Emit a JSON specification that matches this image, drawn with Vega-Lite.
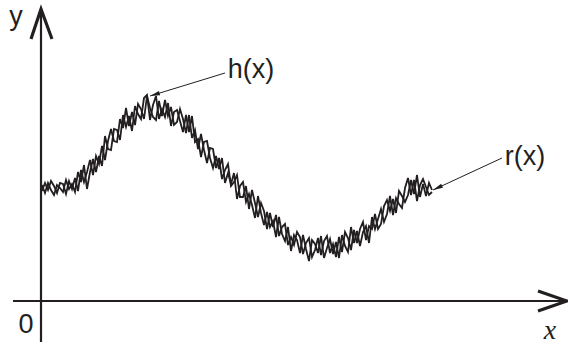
{
  "$schema": "https://vega.github.io/schema/vega-lite/v6.json",
  "width": 568,
  "height": 345,
  "padding": 0,
  "autosize": {"type": "none"},
  "config": {"view": {"stroke": null}},
  "datasets": {
    "curves": [
      {"s":"h","x":1,"y":116},{"s":"h","x":4,"y":108},{"s":"h","x":7,"y":118},{"s":"h","x":10,"y":111},{"s":"h","x":13,"y":106},{"s":"h","x":16,"y":116},{"s":"h","x":19,"y":113},{"s":"h","x":22,"y":109},{"s":"h","x":25,"y":121},{"s":"h","x":28,"y":112},
      {"s":"h","x":31,"y":117},{"s":"h","x":34,"y":109},{"s":"h","x":37,"y":129},{"s":"h","x":40,"y":119},{"s":"h","x":43,"y":136},{"s":"h","x":46,"y":112},{"s":"h","x":49,"y":129},{"s":"h","x":52,"y":142},{"s":"h","x":55,"y":129},{"s":"h","x":58,"y":145},
      {"s":"h","x":61,"y":135},{"s":"h","x":64,"y":165},{"s":"h","x":67,"y":152},{"s":"h","x":70,"y":151},{"s":"h","x":73,"y":172},{"s":"h","x":76,"y":171},{"s":"h","x":79,"y":161},{"s":"h","x":82,"y":186},{"s":"h","x":85,"y":174},{"s":"h","x":88,"y":185},
      {"s":"h","x":91,"y":170},{"s":"h","x":94,"y":195},{"s":"h","x":97,"y":187},{"s":"h","x":100,"y":182},{"s":"h","x":103,"y":203},{"s":"h","x":106,"y":206},{"s":"h","x":109,"y":181},{"s":"h","x":112,"y":196},{"s":"h","x":115,"y":205},{"s":"h","x":118,"y":182},
      {"s":"h","x":121,"y":192},{"s":"h","x":124,"y":184},{"s":"h","x":127,"y":198},{"s":"h","x":130,"y":175},{"s":"h","x":133,"y":189},{"s":"h","x":136,"y":191},{"s":"h","x":139,"y":180},{"s":"h","x":142,"y":169},{"s":"h","x":145,"y":186},{"s":"h","x":148,"y":169},
      {"s":"h","x":151,"y":185},{"s":"h","x":154,"y":159},{"s":"h","x":157,"y":162},{"s":"h","x":160,"y":144},{"s":"h","x":163,"y":159},{"s":"h","x":166,"y":160},{"s":"h","x":169,"y":143},{"s":"h","x":172,"y":133},{"s":"h","x":175,"y":145},{"s":"h","x":178,"y":132},
      {"s":"h","x":181,"y":143},{"s":"h","x":184,"y":118},{"s":"h","x":187,"y":128},{"s":"h","x":190,"y":117},{"s":"h","x":193,"y":128},{"s":"h","x":196,"y":102},{"s":"h","x":199,"y":115},{"s":"h","x":202,"y":119},{"s":"h","x":205,"y":99},{"s":"h","x":208,"y":107},
      {"s":"h","x":211,"y":96},{"s":"h","x":214,"y":83},{"s":"h","x":217,"y":105},{"s":"h","x":220,"y":88},{"s":"h","x":223,"y":76},{"s":"h","x":226,"y":89},{"s":"h","x":229,"y":74},{"s":"h","x":232,"y":80},{"s":"h","x":235,"y":64},{"s":"h","x":238,"y":84},
      {"s":"h","x":241,"y":67},{"s":"h","x":244,"y":60},{"s":"h","x":247,"y":74},{"s":"h","x":250,"y":50},{"s":"h","x":253,"y":66},{"s":"h","x":256,"y":61},{"s":"h","x":259,"y":48},{"s":"h","x":262,"y":66},{"s":"h","x":265,"y":52},{"s":"h","x":268,"y":40},
      {"s":"h","x":271,"y":61},{"s":"h","x":274,"y":57},{"s":"h","x":277,"y":48},{"s":"h","x":280,"y":65},{"s":"h","x":283,"y":43},{"s":"h","x":286,"y":53},{"s":"h","x":289,"y":62},{"s":"h","x":292,"y":47},{"s":"h","x":295,"y":59},{"s":"h","x":298,"y":43},
      {"s":"h","x":301,"y":66},{"s":"h","x":304,"y":55},{"s":"h","x":307,"y":49},{"s":"h","x":310,"y":74},{"s":"h","x":313,"y":58},{"s":"h","x":316,"y":70},{"s":"h","x":319,"y":55},{"s":"h","x":322,"y":69},{"s":"h","x":325,"y":75},{"s":"h","x":328,"y":58},
      {"s":"h","x":331,"y":84},{"s":"h","x":334,"y":72},{"s":"h","x":337,"y":82},{"s":"h","x":340,"y":92},{"s":"h","x":343,"y":79},{"s":"h","x":346,"y":87},{"s":"h","x":349,"y":105},{"s":"h","x":352,"y":86},{"s":"h","x":355,"y":103},{"s":"h","x":358,"y":97},
      {"s":"h","x":361,"y":93},{"s":"h","x":364,"y":113},{"s":"h","x":367,"y":123},{"s":"h","x":370,"y":106},{"s":"h","x":373,"y":121},{"s":"h","x":376,"y":100},{"s":"h","x":379,"y":116},{"s":"h","x":382,"y":122},{"s":"h","x":385,"y":114},{"s":"h","x":388,"y":106},
      {"s":"h","x":391,"y":109},
      {"s":"r","x":1,"y":110},{"s":"r","x":4,"y":118},{"s":"r","x":7,"y":111},{"s":"r","x":10,"y":120},{"s":"r","x":13,"y":115},{"s":"r","x":16,"y":108},{"s":"r","x":19,"y":118},{"s":"r","x":22,"y":117},{"s":"r","x":25,"y":107},{"s":"r","x":28,"y":120},
      {"s":"r","x":31,"y":112},{"s":"r","x":34,"y":123},{"s":"r","x":37,"y":110},{"s":"r","x":40,"y":131},{"s":"r","x":43,"y":119},{"s":"r","x":46,"y":129},{"s":"r","x":49,"y":141},{"s":"r","x":52,"y":126},{"s":"r","x":55,"y":145},{"s":"r","x":58,"y":137},
      {"s":"r","x":61,"y":155},{"s":"r","x":64,"y":141},{"s":"r","x":67,"y":160},{"s":"r","x":70,"y":172},{"s":"r","x":73,"y":160},{"s":"r","x":76,"y":159},{"s":"r","x":79,"y":182},{"s":"r","x":82,"y":173},{"s":"r","x":85,"y":193},{"s":"r","x":88,"y":175},
      {"s":"r","x":91,"y":189},{"s":"r","x":94,"y":176},{"s":"r","x":97,"y":197},{"s":"r","x":100,"y":192},{"s":"r","x":103,"y":182},{"s":"r","x":106,"y":205},{"s":"r","x":109,"y":193},{"s":"r","x":112,"y":184},{"s":"r","x":115,"y":181},{"s":"r","x":118,"y":200},
      {"s":"r","x":121,"y":185},{"s":"r","x":124,"y":201},{"s":"r","x":127,"y":185},{"s":"r","x":130,"y":194},{"s":"r","x":133,"y":176},{"s":"r","x":136,"y":179},{"s":"r","x":139,"y":192},{"s":"r","x":142,"y":182},{"s":"r","x":145,"y":168},{"s":"r","x":148,"y":186},
      {"s":"r","x":151,"y":163},{"s":"r","x":154,"y":171},{"s":"r","x":157,"y":152},{"s":"r","x":160,"y":167},{"s":"r","x":163,"y":151},{"s":"r","x":166,"y":138},{"s":"r","x":169,"y":153},{"s":"r","x":172,"y":152},{"s":"r","x":175,"y":133},{"s":"r","x":178,"y":143},
      {"s":"r","x":181,"y":122},{"s":"r","x":184,"y":131},{"s":"r","x":187,"y":137},{"s":"r","x":190,"y":115},{"s":"r","x":193,"y":119},{"s":"r","x":196,"y":126},{"s":"r","x":199,"y":104},{"s":"r","x":202,"y":104},{"s":"r","x":205,"y":115},{"s":"r","x":208,"y":92},
      {"s":"r","x":211,"y":111},{"s":"r","x":214,"y":98},{"s":"r","x":217,"y":84},{"s":"r","x":220,"y":98},{"s":"r","x":223,"y":90},{"s":"r","x":226,"y":72},{"s":"r","x":229,"y":88},{"s":"r","x":232,"y":74},{"s":"r","x":235,"y":86},{"s":"r","x":238,"y":65},
      {"s":"r","x":241,"y":74},{"s":"r","x":244,"y":77},{"s":"r","x":247,"y":56},{"s":"r","x":250,"y":64},{"s":"r","x":253,"y":56},{"s":"r","x":256,"y":69},{"s":"r","x":259,"y":64},{"s":"r","x":262,"y":47},{"s":"r","x":265,"y":58},{"s":"r","x":268,"y":63},
      {"s":"r","x":271,"y":44},{"s":"r","x":274,"y":51},{"s":"r","x":277,"y":63},{"s":"r","x":280,"y":46},{"s":"r","x":283,"y":60},{"s":"r","x":286,"y":65},{"s":"r","x":289,"y":48},{"s":"r","x":292,"y":57},{"s":"r","x":295,"y":44},{"s":"r","x":298,"y":64},
      {"s":"r","x":301,"y":49},{"s":"r","x":304,"y":69},{"s":"r","x":307,"y":63},{"s":"r","x":310,"y":51},{"s":"r","x":313,"y":71},{"s":"r","x":316,"y":58},{"s":"r","x":319,"y":72},{"s":"r","x":322,"y":79},{"s":"r","x":325,"y":61},{"s":"r","x":328,"y":75},
      {"s":"r","x":331,"y":72},{"s":"r","x":334,"y":87},{"s":"r","x":337,"y":72},{"s":"r","x":340,"y":77},{"s":"r","x":343,"y":95},{"s":"r","x":346,"y":101},{"s":"r","x":349,"y":90},{"s":"r","x":352,"y":102},{"s":"r","x":355,"y":88},{"s":"r","x":358,"y":110},
      {"s":"r","x":361,"y":105},{"s":"r","x":364,"y":99},{"s":"r","x":367,"y":106},{"s":"r","x":370,"y":121},{"s":"r","x":373,"y":107},{"s":"r","x":376,"y":126},{"s":"r","x":379,"y":104},{"s":"r","x":382,"y":117},{"s":"r","x":385,"y":105},{"s":"r","x":388,"y":118},
      {"s":"r","x":391,"y":111}
    ],
    "axes": [
      {"x":0,"y":-41,"x2":0,"y2":292},
      {"x":-28,"y":0,"x2":526,"y2":0}
    ],
    "heads": [
      {"g":"y","i":1,"x":-10,"y":262},{"g":"y","i":2,"x":0,"y":292},{"g":"y","i":3,"x":11,"y":262},
      {"g":"x","i":1,"x":497,"y":10},{"g":"x","i":2,"x":526,"y":0},{"g":"x","i":3,"x":497,"y":-10}
    ],
    "pointers": [
      {"x":184,"y":228,"x2":109,"y2":205,"a":253},
      {"x":461,"y":143,"x2":392,"y2":111,"a":245}
    ],
    "sanslabels": [
      {"t":"y","x":-25,"y":276},
      {"t":"0","x":-15,"y":-32},
      {"t":"h(x)","x":210,"y":223},
      {"t":"r(x)","x":484,"y":136}
    ],
    "seriflabels": [
      {"t":"x","x":509,"y":-38}
    ]
  },
  "layer": [
    {
      "data": {"name": "curves"},
      "mark": {"type": "line", "color": "#231f20", "strokeWidth": 1.8, "strokeJoin": "miter"},
      "encoding": {
        "x": {"field": "x", "type": "quantitative", "scale": {"domain": [-41, 527], "nice": false, "zero": false}, "axis": null},
        "y": {"field": "y", "type": "quantitative", "scale": {"domain": [-44, 301], "nice": false, "zero": false}, "axis": null},
        "detail": {"field": "s"}
      }
    },
    {
      "data": {"name": "axes"},
      "mark": {"type": "rule", "color": "#231f20", "strokeWidth": 2.2},
      "encoding": {
        "x": {"field": "x", "type": "quantitative"},
        "y": {"field": "y", "type": "quantitative"},
        "x2": {"field": "x2"},
        "y2": {"field": "y2"}
      }
    },
    {
      "data": {"name": "heads"},
      "mark": {"type": "line", "color": "#231f20", "strokeWidth": 3.2, "strokeJoin": "miter", "strokeCap": "butt"},
      "encoding": {
        "x": {"field": "x", "type": "quantitative"},
        "y": {"field": "y", "type": "quantitative"},
        "detail": {"field": "g"},
        "order": {"field": "i"}
      }
    },
    {
      "data": {"name": "pointers"},
      "mark": {"type": "rule", "color": "#231f20", "strokeWidth": 1},
      "encoding": {
        "x": {"field": "x", "type": "quantitative"},
        "y": {"field": "y", "type": "quantitative"},
        "x2": {"field": "x2"},
        "y2": {"field": "y2"}
      }
    },
    {
      "data": {"name": "pointers"},
      "mark": {"type": "point", "shape": "M0,0L0.45,2L-0.45,2Z", "filled": true, "color": "#231f20", "opacity": 1, "size": 100, "strokeWidth": 0},
      "encoding": {
        "x": {"field": "x2", "type": "quantitative"},
        "y": {"field": "y2", "type": "quantitative"},
        "angle": {"field": "a", "type": "quantitative", "scale": null}
      }
    },
    {
      "data": {"name": "sanslabels"},
      "mark": {"type": "text", "font": "Liberation Sans", "fontSize": 27, "color": "#231f20", "baseline": "alphabetic", "align": "center"},
      "encoding": {
        "x": {"field": "x", "type": "quantitative"},
        "y": {"field": "y", "type": "quantitative"},
        "text": {"field": "t"}
      }
    },
    {
      "data": {"name": "seriflabels"},
      "mark": {"type": "text", "font": "Liberation Serif", "fontStyle": "italic", "fontSize": 28, "color": "#231f20", "baseline": "alphabetic", "align": "center"},
      "encoding": {
        "x": {"field": "x", "type": "quantitative"},
        "y": {"field": "y", "type": "quantitative"},
        "text": {"field": "t"}
      }
    }
  ]
}
